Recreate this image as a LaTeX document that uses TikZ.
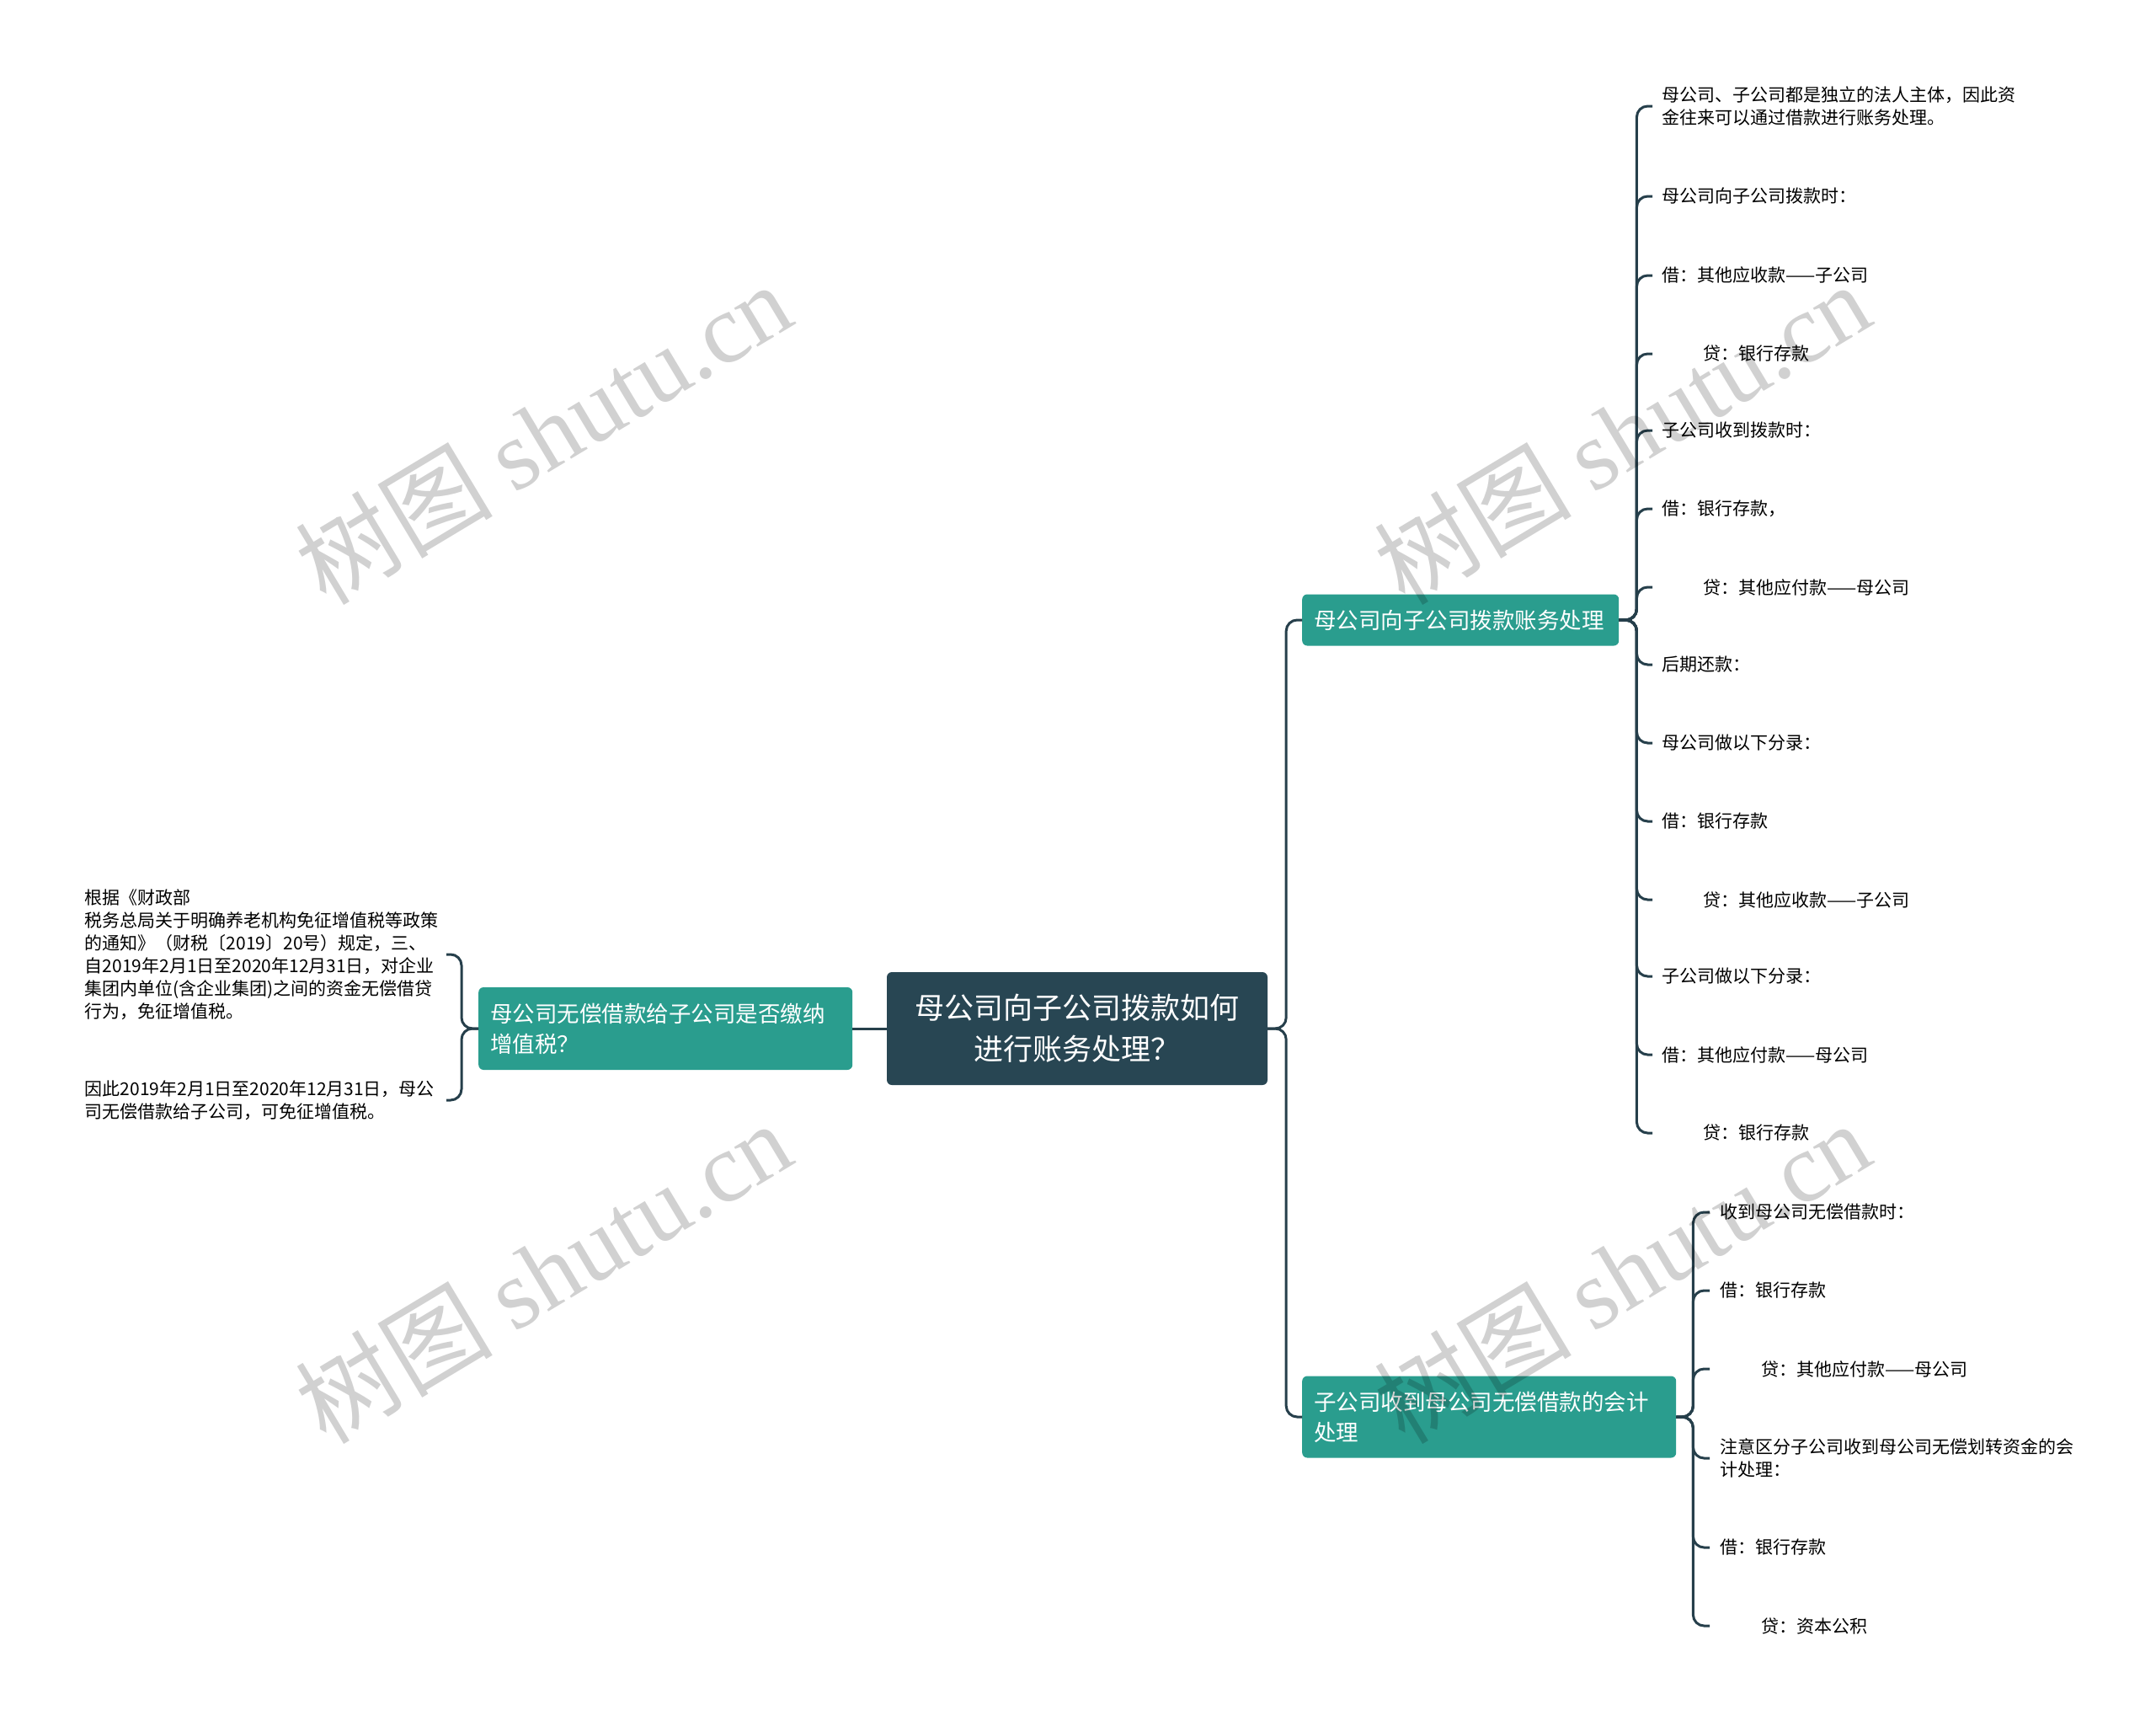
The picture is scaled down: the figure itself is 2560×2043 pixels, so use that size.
\documentclass[tikz,border=0pt]{standalone}
\usepackage{fontspec}
\setmainfont{Noto Sans CJK SC}
\newfontfamily\wmserif{Liberation Serif}
\definecolor{rootc}{HTML}{284653}
\definecolor{tealc}{HTML}{2A9D8E}
\definecolor{linec}{HTML}{263F4B}
\begin{document}
\begin{tikzpicture}[x=1pt,y=-1pt,
  conn/.style={draw=linec, line width=3pt, rounded corners=13pt},
  rootbox/.style={fill=rootc, text=white, rounded corners=6pt, align=center,
    font=\fontsize{35pt}{49pt}\selectfont, inner sep=0pt},
  subbox/.style={fill=tealc, text=white, rounded corners=6pt, align=left,
    font=\fontsize{26.5pt}{36pt}\selectfont, inner xsep=14pt, inner ysep=0pt, anchor=west},
  leaf/.style={anchor=west, align=left, inner xsep=11pt, inner ysep=0pt,
    font=\fontsize{21pt}{27pt}\selectfont, text=black},
  wm/.style={text=black, opacity=0.18, rotate=31, inner sep=0pt,
    font=\fontsize{117pt}{117pt}\selectfont}
]
\useasboundingbox (0,0) rectangle (2560,2043);
\fill[white] (0,0) rectangle (2560,2043);

% central node
\node[rootbox, minimum width=452pt, minimum height=134pt] (root) at (1279,1221) {母公司向子公司拨款如何\\进行账务处理？};

% main branches
\node[subbox, text width=416pt, minimum height=98pt] (ln) at (568,1221) {母公司无偿借款给子公司是否缴纳\\增值税？};
\node[subbox, text width=348pt, minimum height=61pt] (r1) at (1546,736) {母公司向子公司拨款账务处理};
\node[subbox, text width=416pt, minimum height=97pt] (r2) at (1546,1682) {子公司收到母公司无偿借款的会计\\处理};

% left leaves
\node[leaf, anchor=east, text width=429pt, inner xsep=0pt] (lt1) at (530,1133) {根据《财政部\\税务总局关于明确养老机构免征增值税等政策\\的通知》（财税〔2019〕20号）规定，三、\\自2019年2月1日至2020年12月31日，对企业\\集团内单位(含企业集团)之间的资金无偿借贷\\行为，免征增值税。};
\node[leaf, anchor=east, text width=429pt, inner xsep=0pt] (lt2) at (530,1306) {因此2019年2月1日至2020年12月31日，母公\\司无偿借款给子公司，可免征增值税。};

% right branch 1 leaves
\node[leaf] (a1) at (1962,126) {母公司、子公司都是独立的法人主体，因此资\\金往来可以通过借款进行账务处理。};
\node[leaf] (a2) at (1962,233) {母公司向子公司拨款时：};
\node[leaf] (a3) at (1962,327) {借：其他应收款——子公司};
\node[leaf] (a4) at (1962,420) {\hspace*{49pt}贷：银行存款};
\node[leaf] (a5) at (1962,511) {子公司收到拨款时：};
\node[leaf] (a6) at (1962,604) {借：银行存款，};
\node[leaf] (a7) at (1962,697) {\hspace*{49pt}贷：其他应付款——母公司};
\node[leaf] (a8) at (1962,789) {后期还款：};
\node[leaf] (a9) at (1962,882) {母公司做以下分录：};
\node[leaf] (a10) at (1962,975) {借：银行存款};
\node[leaf] (a11) at (1962,1068) {\hspace*{49pt}贷：其他应收款——子公司};
\node[leaf] (a12) at (1962,1159) {子公司做以下分录：};
\node[leaf] (a13) at (1962,1252) {借：其他应付款——母公司};
\node[leaf] (a14) at (1962,1345) {\hspace*{49pt}贷：银行存款};

% right branch 2 leaves
\node[leaf, inner xsep=12pt] (b1) at (2030,1439) {收到母公司无偿借款时：};
\node[leaf, inner xsep=12pt] (b2) at (2030,1532) {借：银行存款};
\node[leaf, inner xsep=12pt] (b3) at (2030,1625) {\hspace*{49pt}贷：其他应付款——母公司};
\node[leaf, inner xsep=12pt] (b4) at (2030,1731) {注意区分子公司收到母公司无偿划转资金的会\\计处理：};
\node[leaf, inner xsep=12pt] (b5) at (2030,1837) {借：银行存款};
\node[leaf, inner xsep=12pt] (b6) at (2030,1930) {\hspace*{49pt}贷：资本公积};

% connectors
\draw[conn] (root.west) -- (ln.east);
\draw[conn] (root.east) -- ++(22,0) |- (r1.west);
\draw[conn] (root.east) -- ++(22,0) |- (r2.west);
\foreach \t in {lt1,lt2}
  \draw[conn] (ln.west) -- ++(-20,0) |- (\t.east);
\foreach \t in {a1,a2,a3,a4,a5,a6,a7,a8,a9,a10,a11,a12,a13,a14}
  \draw[conn] (r1.east) -- ++(21,0) |- (\t.west);
\foreach \t in {b1,b2,b3,b4,b5,b6}
  \draw[conn] (r2.east) -- ++(20,0) |- (\t.west);

% watermarks
\node[wm] (wm1) at (645,514) {树图 {\wmserif shutu.cn}};
\node[wm] (wm2) at (645,1510) {树图 {\wmserif shutu.cn}};
\node[wm] (wm3) at (1926,514) {树图 {\wmserif shutu.cn}};
\node[wm] (wm4) at (1926,1510) {树图 {\wmserif shutu.cn}};
\end{tikzpicture}
\end{document}
